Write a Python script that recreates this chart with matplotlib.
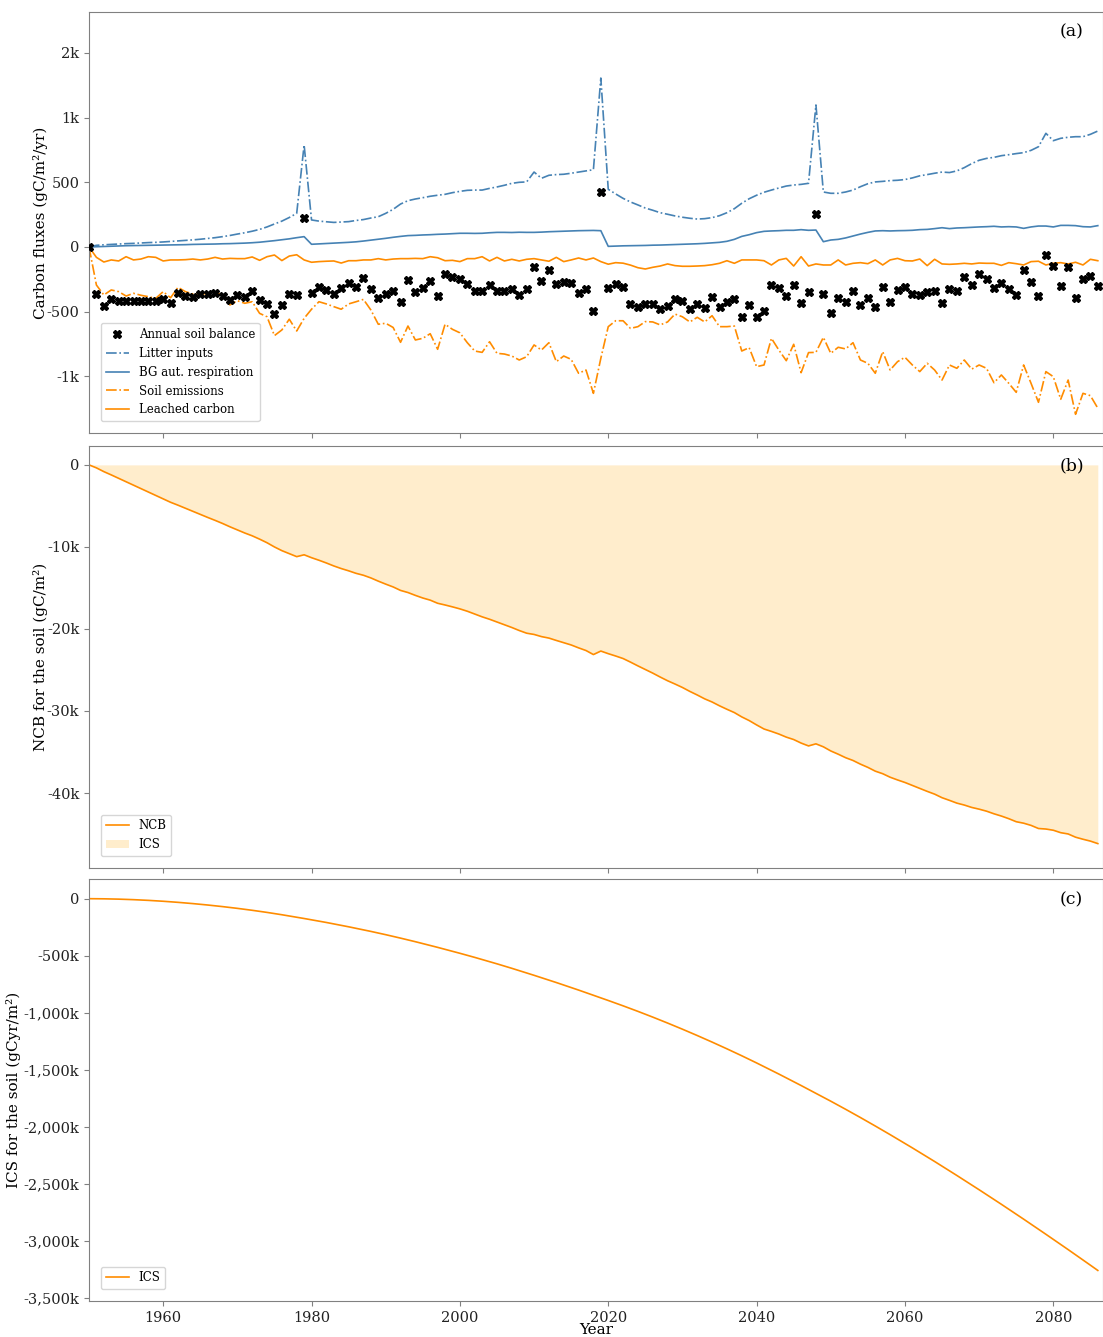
import numpy as np
import matplotlib
matplotlib.use("Agg")
import matplotlib.pyplot as plt
from matplotlib.ticker import FuncFormatter, NullLocator

plt.rcParams['font.family'] = ['DejaVu Serif']

years = list(range(1950, 2087))

balance = [
    0, -366, -458, -400, -417, -417, -417, -420, -417, -420,
    -400, -430, -353, -376, -384, -366, -366, -358, -376, -407,
    -373, -384, -342, -407, -438, -512, -451, -363, -368, 226,
    -355, -309, -335, -361, -317, -276, -307, -236, -325, -392,
    -363, -342, -425, -258, -348, -319, -260, -381, -209, -229,
    -245, -288, -340, -342, -296, -337, -340, -327, -368, -327,
    -152, -263, -180, -288, -270, -281, -353, -325, -492, 427,
    -317, -286, -307, -438, -461, -440, -440, -477, -453, -400,
    -420, -479, -438, -469, -384, -464, -423, -402, -528, -446,
    -531, -497, -294, -319, -376, -296, -430, -348, 255, -363,
    -505, -394, -428, -340, -448, -392, -461, -310, -428, -332,
    -309, -363, -373, -348, -338, -435, -322, -338, -234, -291,
    -211, -245, -319, -276, -322, -368, -180, -268, -379, -64,
    -147, -299, -155, -394, -250, -227, -304,
]

litter = [
    0, 13, 17, 20, 23, 26, 28, 31, 34, 36,
    39, 43, 47, 51, 55, 60, 66, 72, 80, 89,
    100, 110, 122, 136, 155, 178, 200, 228, 260, 746,
    209, 200, 195, 190, 193, 196, 205, 212, 224, 234,
    260, 291, 332, 358, 371, 381, 392, 400, 407, 420,
    430, 438, 440, 440, 453, 464, 477, 492, 500, 502,
    558, 522, 539, 543, 545, 551, 558, 565, 572, 1528,
    446, 410, 376, 348, 325, 301, 284, 265, 253, 240,
    230, 222, 216, 219, 227, 242, 265, 296, 338, 373,
    400, 423, 440, 456, 471, 479, 484, 492, 1145, 425,
    415, 415, 425, 440, 466, 489, 502, 505, 509, 511,
    515, 524, 536, 543, 551, 558, 555, 565, 585, 611,
    633, 646, 653, 665, 672, 680, 687, 704, 732, 845,
    781, 801, 810, 815, 815, 836, 866,
]

bg_resp = [
    0, 2, 4, 6, 8, 10, 11, 12, 13, 14,
    15, 16, 17, 18, 20, 21, 22, 23, 25, 26,
    28, 30, 33, 37, 43, 49, 56, 63, 72, 80,
    21, 24, 27, 30, 33, 36, 40, 46, 53, 60,
    67, 75, 82, 88, 90, 93, 95, 98, 100, 103,
    106, 106, 105, 106, 110, 113, 113, 112, 114, 113,
    113, 115, 118, 120, 122, 124, 126, 127, 128, 126,
    5, 7, 9, 10, 11, 12, 14, 15, 17, 19,
    21, 23, 25, 28, 32, 36, 44, 59, 82, 95,
    111, 121, 124, 126, 129, 129, 134, 129, 131, 41,
    54, 59, 70, 85, 100, 113, 124, 126, 124, 126,
    127, 129, 134, 136, 142, 149, 142, 147, 149, 152,
    155, 157, 160, 155, 157, 155, 144, 155, 162, 162,
    155, 167, 167, 165, 157, 155, 165,
]

soil_em = [
    0, -294, -371, -332, -345, -379, -358, -373, -384, -397,
    -345, -392, -312, -345, -363, -366, -358, -350, -371, -448,
    -415, -435, -423, -509, -528, -646, -608, -542, -615, -537,
    -481, -423, -440, -461, -481, -440, -423, -405, -487, -572,
    -566, -592, -694, -583, -677, -665, -633, -748, -572, -604,
    -627, -697, -762, -773, -690, -781, -787, -804, -839, -810,
    -714, -754, -697, -854, -804, -833, -967, -934, -1199, -824,
    -587, -551, -551, -598, -587, -556, -558, -576, -558, -513,
    -528, -558, -531, -558, -522, -587, -587, -583, -762, -735,
    -901, -885, -665, -754, -845, -709, -961, -775, -773, -658,
    -781, -732, -745, -697, -839, -869, -967, -767, -934, -854,
    -815, -885, -950, -869, -934, -1040, -885, -917, -839, -925,
    -885, -917, -1070, -985, -1077, -1186, -885, -1077, -1320, -950,
    -1003, -1278, -1040, -1501, -1199, -1229, -1406,
]

leached = [
    0, -80, -116, -100, -108, -75, -100, -93, -75, -80,
    -108, -100, -100, -98, -93, -100, -93, -80, -93, -88,
    -90, -90, -77, -103, -75, -62, -105, -70, -60, -100,
    -118, -113, -110, -108, -124, -106, -106, -100, -100, -90,
    -100, -93, -90, -90, -88, -90, -75, -83, -106, -103,
    -113, -90, -90, -75, -108, -80, -108, -95, -108, -95,
    -90, -100, -110, -80, -113, -100, -85, -100, -85, -113,
    -133, -121, -125, -140, -160, -170, -157, -147, -131, -144,
    -149, -149, -147, -144, -137, -126, -106, -126, -100, -100,
    -100, -106, -139, -100, -88, -147, -75, -147, -131, -139,
    -139, -100, -139, -126, -121, -129, -100, -139, -100, -88,
    -106, -108, -93, -144, -95, -131, -134, -131, -126, -131,
    -124, -126, -126, -142, -121, -129, -139, -113, -110, -139,
    -126, -121, -131, -118, -139, -95, -106,
]

flux_ticks = [-1000, -500, 0, 500, 1000, 2000]
flux_ticklabels = ['-1k', '-500', '0', '500', '1k', '2k']
x_ticks = [1960, 1980, 2000, 2020, 2040, 2060, 2080]

# Net carbon balance (cumulative) and integrated carbon storage
ncb = np.cumsum(balance)
ics = np.cumsum(ncb)

BLUE = '#4682b4'
ORANGE = '#ff8c00'
SPINE = '#808080'

fig = plt.figure(figsize=(11.03, 13.37), dpi=100)
W, H = 1103, 1337
L = 89 / W
axw = 1.0 - L
ax1 = fig.add_axes([L, 1 - 433 / H, axw, (433 - 12) / H])
ax2 = fig.add_axes([L, 1 - 867.7 / H, axw, (867.7 - 446) / H], sharex=ax1)
ax3 = fig.add_axes([L, 1 - 1301 / H, axw, (1301 - 879.3) / H], sharex=ax1)

for ax in (ax1, ax2, ax3):
    for sp in ax.spines.values():
        sp.set_color(SPINE)
    ax.tick_params(axis='both', colors=SPINE, labelcolor='#222222', labelsize=10.5)

# ---- panel (a)
ax1.plot(years, litter, color=BLUE, ls='-.', lw=1.2, label='Litter inputs')
ax1.plot(years, bg_resp, color=BLUE, ls='-', lw=1.2, label='BG aut. respiration')
ax1.plot(years, soil_em, color=ORANGE, ls='-.', lw=1.2, label='Soil emissions')
ax1.plot(years, leached, color=ORANGE, ls='-', lw=1.2, label='Leached carbon')
ax1.plot(years, balance, ls='none', marker='X', ms=5.5, color='black', label='Annual soil balance', zorder=5)
ax1.set_yscale('symlog', base=2, linthresh=500, linscale=0.5)
ax1.set_ylim(-1834, 3100)
ax1.set_yticks(flux_ticks)
ax1.set_yticklabels(flux_ticklabels)
ax1.yaxis.set_minor_locator(NullLocator())
ax1.set_ylabel('Carbon fluxes (gC/m²/yr)', fontsize=11)
ax1.yaxis.set_label_coords(-0.040, 0.5)
h, lab = ax1.get_legend_handles_labels()
order = [lab.index(s) for s in ['Annual soil balance', 'Litter inputs', 'BG aut. respiration',
                                 'Soil emissions', 'Leached carbon']]
ax1.legend([h[i] for i in order], [lab[i] for i in order], loc='lower left', fontsize=8.5,
           borderaxespad=1.0)
ax1.text(0.969, 0.952, '(a)', transform=ax1.transAxes, ha='center', va='center', fontsize=12.5)
ax1.tick_params(axis='x', labelbottom=False)

# ---- panel (b)
ax2.fill_between(years, ncb, 0, color='orange', alpha=0.2, lw=0, label='ICS')
ax2.plot(years, ncb, color=ORANGE, lw=1.2, label='NCB')
ax2.set_ylim(-49100, 2300)
ax2.set_yticks([-40000, -30000, -20000, -10000, 0])
ax2.yaxis.set_major_formatter(FuncFormatter(lambda v, p: '0' if v == 0 else f'{v/1000:.0f}k'))
ax2.set_ylabel('NCB for the soil (gC/m²)', fontsize=11)
ax2.yaxis.set_label_coords(-0.040, 0.5)
h2, l2 = ax2.get_legend_handles_labels()
ax2.legend([h2[l2.index('NCB')], h2[l2.index('ICS')]], ['NCB', 'ICS'], loc='lower left', fontsize=8.5,
           borderaxespad=1.0)
ax2.text(0.969, 0.952, '(b)', transform=ax2.transAxes, ha='center', va='center', fontsize=12.5)
ax2.tick_params(axis='x', labelbottom=False)

# ---- panel (c)
ax3.plot(years, ics, color=ORANGE, lw=1.2, label='ICS')
ax3.set_ylim(-3529000, 170000)
ax3.set_yticks([-3500000, -3000000, -2500000, -2000000, -1500000, -1000000, -500000, 0])
ax3.yaxis.set_major_formatter(FuncFormatter(lambda v, p: '0' if v == 0 else f'{v/1000:,.0f}k'))
ax3.set_ylabel('ICS for the soil (gCyr/m²)', fontsize=11)
ax3.yaxis.set_label_coords(-0.067, 0.5)
ax3.legend(loc='lower left', fontsize=8.5, borderaxespad=1.0)
ax3.text(0.969, 0.952, '(c)', transform=ax3.transAxes, ha='center', va='center', fontsize=12.5)
ax3.set_xlim(1950, 2086.7)
ax3.set_xticks(x_ticks)
ax3.set_xlabel('Year', fontsize=11)
ax3.xaxis.set_label_coords(0.5, -0.051)

fig.savefig('out.png', dpi=100)
